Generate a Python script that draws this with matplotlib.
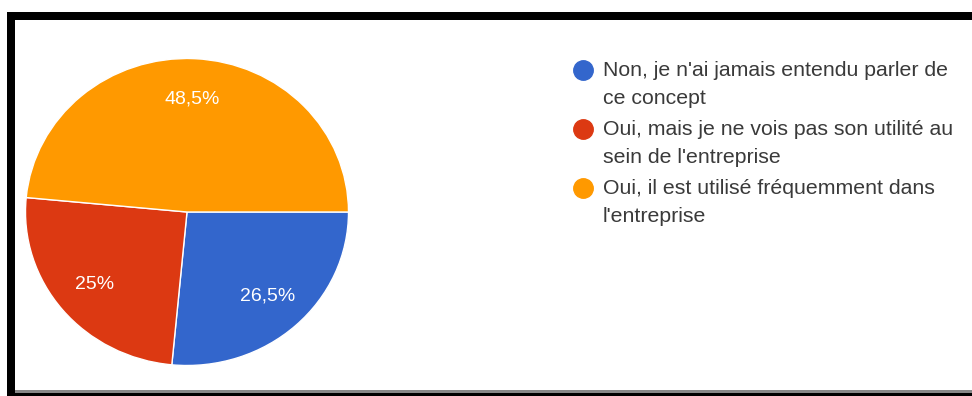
import matplotlib
matplotlib.use("Agg")
import matplotlib.pyplot as plt
from matplotlib.patches import Rectangle
from matplotlib.lines import Line2D

# Survey answers and their shares (%)
answers = [
    "Non, je n'ai jamais entendu parler de\nce concept",
    "Oui, mais je ne vois pas son utilité au\nsein de l'entreprise",
    "Oui, il est utilisé fréquemment dans\nl'entreprise",
]
shares = [26.5, 25.0, 48.5]
colors = ["#3366cc", "#dc3912", "#ff9900"]

W, H = 972, 396
fig = plt.figure(figsize=(W / 100, H / 100), dpi=100)
fig.patch.set_facecolor("white")


def px_box(x0, y0, x1, y1):
    """Pixel box (top-left origin) -> figure fraction [l, b, w, h]."""
    return [x0 / W, 1 - y1 / H, (x1 - x0) / W, (y1 - y0) / H]


def fmt_pct(p):
    s = f"{p:.1f}".rstrip("0").rstrip(".")
    return s.replace(".", ",") + "%"


# Pie, slightly stretched horizontally
ax = fig.add_axes(px_box(187 - 161.5, 212 - 153.5, 187 + 161.5, 212 + 153.5))
wedges, _, autotexts = ax.pie(
    shares, colors=colors, startangle=0, counterclock=False,
    autopct=fmt_pct, pctdistance=0.74,
    wedgeprops=dict(edgecolor="white", linewidth=1.0),
    textprops=dict(color="white", fontsize=14, family="Liberation Sans"),
)
ax.set_aspect("auto")
ax.set_xlim(-1, 1)
ax.set_ylim(-1, 1)
ax.axis("off")

# Legend: dot + wrapped label, dot aligned with first line
leg_y = [70, 129, 188]
for lab, col, y in zip(answers, colors, leg_y):
    fig.add_artist(Line2D([583 / W], [1 - y / H], marker="o", markersize=14,
                          color=col, linestyle="none", transform=fig.transFigure))
    fig.text(603 / W, 1 - (y - 9) / H, lab, ha="left", va="top",
             fontsize=15.3, color="#3a3a3a", family="Liberation Sans",
             linespacing=1.62)

# Frame around the screenshot
fig.add_artist(Rectangle((7 / W, 0), 8 / W, 1 - 12 / H, transform=fig.transFigure,
                         color="black", lw=0))
fig.add_artist(Rectangle((7 / W, 1 - 20 / H), 1 - 7 / W, 8 / H,
                         transform=fig.transFigure, color="black", lw=0))
fig.add_artist(Rectangle((15 / W, 3 / H), 1, 3 / H, transform=fig.transFigure,
                         color="#888888", lw=0))
fig.add_artist(Rectangle((15 / W, 0), 1, 3 / H, transform=fig.transFigure,
                         color="black", lw=0))

fig.savefig("out.png", dpi=100, facecolor=fig.get_facecolor())
